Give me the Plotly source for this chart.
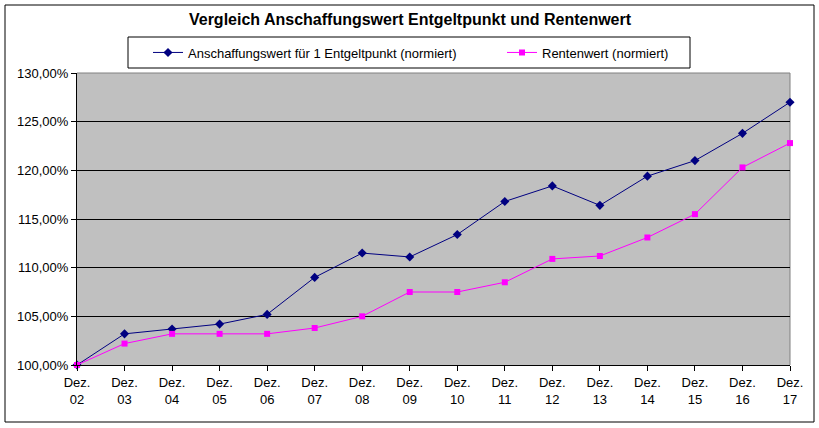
import plotly.graph_objects as go

categories = ["Dez.<br>02", "Dez.<br>03", "Dez.<br>04", "Dez.<br>05", "Dez.<br>06", "Dez.<br>07",
              "Dez.<br>08", "Dez.<br>09", "Dez.<br>10", "Dez.<br>11", "Dez.<br>12", "Dez.<br>13",
              "Dez.<br>14", "Dez.<br>15", "Dez.<br>16", "Dez.<br>17"]
anschaffungswert = [1.000, 1.032, 1.037, 1.042, 1.052, 1.090, 1.115, 1.111,
                    1.134, 1.168, 1.184, 1.164, 1.194, 1.210, 1.238, 1.270]
rentenwert = [1.000, 1.022, 1.032, 1.032, 1.032, 1.038, 1.050, 1.075,
              1.075, 1.085, 1.109, 1.112, 1.131, 1.155, 1.203, 1.228]
series_names = ["Anschaffungswert für 1 Entgeltpunkt (normiert)", "Rentenwert (normiert)"]
title_text = "Vergleich Anschaffungswert Entgeltpunkt und Rentenwert"

W, H = 819, 428
L, R, T, B = 77, 29, 73, 63
PW, PH = W - L - R, H - T - B

def px(x):
    return (x - L) / PW

def py(y):
    return (H - B - y) / PH

FONT = "Liberation Sans, Arial, sans-serif"

fig = go.Figure()
fig.add_trace(go.Scatter(
    x=categories, y=anschaffungswert, name=series_names[0], mode="lines+markers",
    line=dict(color="#000080", width=1), cliponaxis=False,
    marker=dict(symbol="diamond", size=7, color="#000080"),
))
fig.add_trace(go.Scatter(
    x=categories, y=rentenwert, name=series_names[1], mode="lines+markers",
    line=dict(color="#FF00FF", width=1), cliponaxis=False,
    marker=dict(symbol="square", size=6, color="#FF00FF"),
))

fig.update_layout(
    width=W, height=H,
    margin=dict(l=L, r=R, t=T, b=B, autoexpand=False),
    paper_bgcolor="white",
    plot_bgcolor="#C0C0C0",
    separators=",.",
    font=dict(family=FONT, size=13, color="black"),
    title=dict(text="<b>" + title_text + "</b>", x=410 / W, xref="container", xanchor="center",
               y=1 - 19 / H, yref="container", yanchor="middle",
               font=dict(family=FONT, size=16, color="black")),
    showlegend=True,
    legend=dict(orientation="h", x=px(148), xanchor="left", y=py(52.5), yanchor="middle",
                bgcolor="rgba(0,0,0,0)", borderwidth=0, entrywidth=309,
                font=dict(family=FONT, size=13, color="black")),
    xaxis=dict(type="category", range=[0, 15], showgrid=False, showline=True, linecolor="black",
               linewidth=1, ticks="outside", ticklen=5, tickcolor="black", tickangle=0,
               zeroline=False, fixedrange=True),
    yaxis=dict(range=[1.0, 1.3], dtick=0.05, tickformat=".2%", showgrid=True, gridcolor="black",
               gridwidth=1, showline=True, linecolor="black", linewidth=1, ticks="outside",
               ticklen=5, tickcolor="black", zeroline=False, fixedrange=True),
    shapes=[
        dict(type="rect", xref="paper", yref="paper", x0=px(5), x1=px(814), y0=py(422), y1=py(5),
             line=dict(color="black", width=1), fillcolor="rgba(0,0,0,0)", layer="above"),
        dict(type="rect", xref="paper", yref="paper", x0=px(128), x1=px(690), y0=py(68), y1=py(37),
             line=dict(color="black", width=1), fillcolor="white", layer="below"),
        dict(type="line", xref="paper", yref="paper", x0=0, x1=1, y0=1, y1=1,
             line=dict(color="#808080", width=1), layer="above"),
        dict(type="line", xref="paper", yref="paper", x0=1, x1=1, y0=0, y1=1,
             line=dict(color="#808080", width=1), layer="below"),
    ],
)

fig.write_html("out.html", config={"displayModeBar": False},
               post_script="document.body.style.margin='0';document.body.style.padding='0';")
